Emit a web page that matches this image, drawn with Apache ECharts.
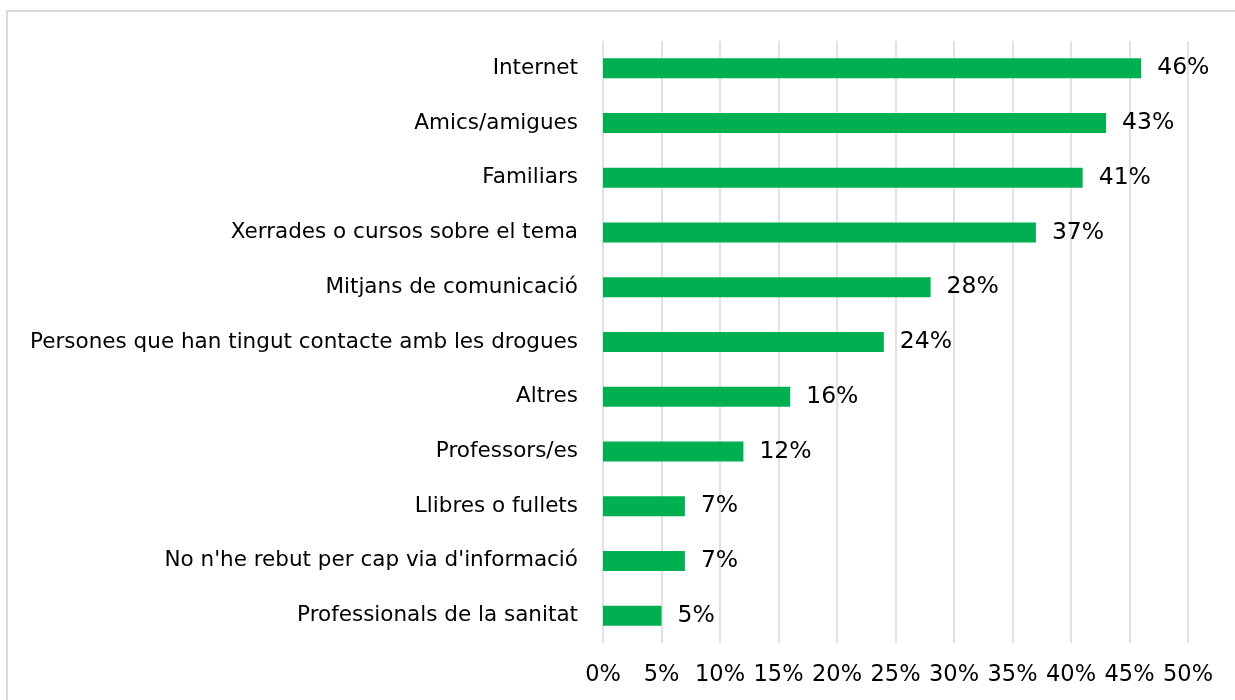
<!DOCTYPE html>
<html><head><meta charset="utf-8">
<script src="https://cdn.jsdelivr.net/npm/echarts@6/dist/echarts.min.js"></script>
<style>html,body{margin:0;padding:0;background:#fff}#c{width:1235px;height:700px}</style>
</head><body><div id="c"></div>
<script>
const categories = ["Internet","Amics/amigues","Familiars","Xerrades o cursos sobre el tema","Mitjans de comunicació","Persones que han tingut contacte amb les drogues","Altres","Professors/es","Llibres o fullets","No n'he rebut per cap via d'informació","Professionals de la sanitat"];
const values = [46,43,41,37,28,24,16,12,7,7,5];
const FONT = "DejaVu Sans";
const chart = echarts.init(document.getElementById('c'));
chart.setOption({
  animation:false,
  graphic:[{type:'rect',shape:{x:7,y:11,width:1240,height:700},style:{fill:'none',stroke:'#d9d9d9',lineWidth:2},z:-1}],
  grid:{left:603,right:47,top:41,bottom:57,containLabel:false},
  xAxis:{type:'value',min:0,max:50,interval:5,
    axisLabel:{formatter:'{value}%',color:'#000',fontFamily:FONT,fontSize:22.5,margin:21,hideOverlap:false},
    axisLine:{show:false},axisTick:{show:false},
    splitLine:{lineStyle:{color:'#d9d9d9',width:1.5}}},
  yAxis:{type:'category',data:categories,inverse:true,
    axisLine:{show:false},axisTick:{show:false},
    axisLabel:{color:'#000',fontFamily:FONT,fontSize:21.5,margin:25}},
  series:[{type:'bar',data:values,barWidth:20,itemStyle:{color:'#00b050'},
    label:{show:true,position:'right',distance:16,formatter:'{c}%',color:'#000',fontFamily:FONT,fontSize:23.5}}]
});
</script></body></html>
